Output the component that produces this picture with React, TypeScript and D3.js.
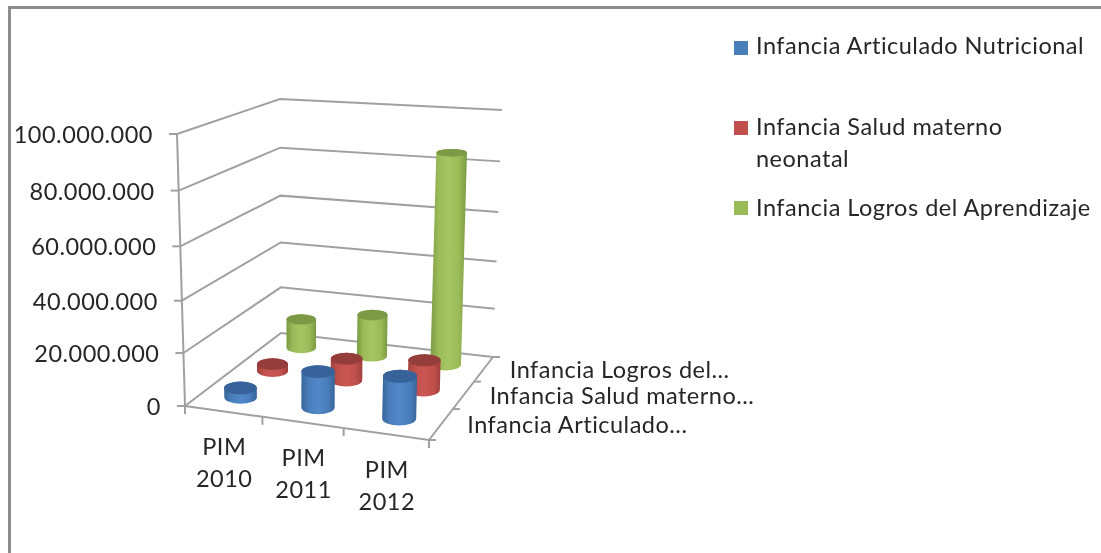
import React from "react";
import * as d3 from "d3";

const years = ["PIM 2010", "PIM 2011", "PIM 2012"];
const seriesNames = [
  "Infancia Articulado Nutricional",
  "Infancia Salud materno neonatal",
  "Infancia Logros del Aprendizaje",
];
const depthLabels = ["Infancia Articulado...", "Infancia Salud materno...", "Infancia Logros del..."];
const legendLines = [["Infancia Articulado Nutricional"], ["Infancia Salud materno", "neonatal"], ["Infancia Logros del Aprendizaje"]];
const articulado = [3500000, 13500000, 15500000];
const salud = [2800000, 8500000, 11500000];
const logros = [12000000, 17000000, 85000000];
const yTicks = [0, 20000000, 40000000, 60000000, 80000000, 100000000];

const W = 1101;
const H = 553;
const FONT = "Lato, sans-serif";

const colors = [
  { side: "#4a7ebb", edge: "#38659b", mid: "#5188c9", top: "#38649a" },
  { side: "#c0504d", edge: "#a03f3d", mid: "#ca5653", top: "#943c3a" },
  { side: "#9bbb59", edge: "#7a9a42", mid: "#a4c660", top: "#7c9a45" },
];

type Pt = [number, number];

// unit square -> quad: (0,0) front-left, (0,1) back-left, (1,1) back-right, (1,0) front-right
function quad(p0: Pt, p1: Pt, p2: Pt, p3: Pt) {
  const dx1 = p3[0] - p2[0], dx2 = p1[0] - p2[0], sx = p0[0] - p3[0] + p2[0] - p1[0];
  const dy1 = p3[1] - p2[1], dy2 = p1[1] - p2[1], sy = p0[1] - p3[1] + p2[1] - p1[1];
  const den = dx1 * dy2 - dx2 * dy1;
  const g = (sx * dy2 - dx2 * sy) / den;
  const h = (dx1 * sy - sx * dy1) / den;
  const a = p3[0] - p0[0] + g * p3[0], b = p1[0] - p0[0] + h * p1[0];
  const d = p3[1] - p0[1] + g * p3[1], e = p1[1] - p0[1] + h * p1[1];
  return (u: number, v: number): Pt => {
    const w = g * u + h * v + 1;
    return [(a * u + b * v + p0[0]) / w, (d * u + e * v + p0[1]) / w];
  };
}

const floor = quad([185, 406], [281, 333], [493, 357], [429, 440]);
const roof = quad([177, 134], [280, 99], [502, 110], [437, 150]);

const xScale = d3.scaleBand<string>().domain(years).range([0, 1]);
const zScale = d3.scaleBand<string>().domain(seriesNames).range([0, 1]);
// the gridlines in the picture are not quite evenly spaced
const yScale = d3.scaleLinear().domain(yTicks).range([0, 0.195, 0.387, 0.587, 0.792, 1]);
const fmt = (v: number) => d3.format(",")(v).replace(/,/g, ".");

function project(u: number, v: number, value: number): Pt {
  const t = yScale(value);
  const a = floor(u, v);
  const b = roof(u, v);
  return [a[0] + (b[0] - a[0]) * t, a[1] + (b[1] - a[1]) * t];
}

const flat = d3.scaleLinear().domain([150, 377]).range([0.25, 0.39]);

function cylinder(u: number, v: number, value: number) {
  const base = floor(u, v);
  const rTop = project(u, v, value);
  const span = Math.hypot(roof(u, v)[0] - base[0], roof(u, v)[1] - base[1]);
  const rx = span * 0.061;
  const ryBase = rx * flat(base[1]);
  const ryTop = rx * flat(rTop[1]);
  const side =
    `M${rTop[0] - rx},${rTop[1]}L${base[0] - rx},${base[1]}` +
    `A${rx},${ryBase} 0 0 0 ${base[0] + rx},${base[1]}` +
    `L${rTop[0] + rx},${rTop[1]}A${rx},${ryTop} 0 0 0 ${rTop[0] - rx},${rTop[1]}Z`;
  return { side, top: rTop, rx, ryTop };
}

const line = d3.line<Pt>();

export default function App() {
  const data = [articulado, salud, logros];
  const axisColor = "#a0a0a0";
  const bars = seriesNames
    .map((name, s) => ({ name, s }))
    .reverse()
    .flatMap(({ name, s }) =>
      years.map((year, i) => ({
        key: name + year,
        s,
        ...cylinder(xScale(year)! + xScale.bandwidth() / 2, zScale(name)! + zScale.bandwidth() / 2, data[s][i]),
      }))
    );

  return (
    <svg width={W} height={H} style={{ position: "fixed", left: 0, top: 0, background: "#fff" }} fontFamily={FONT}>
      <defs>
        {colors.map((c, i) => (
          <linearGradient key={i} id={`cyl${i}`} x1="0" x2="1" y1="0" y2="0">
            <stop offset="0" stopColor={c.edge} />
            <stop offset="0.22" stopColor={c.side} />
            <stop offset="0.5" stopColor={c.mid} />
            <stop offset="0.78" stopColor={c.side} />
            <stop offset="1" stopColor={c.edge} />
          </linearGradient>
        ))}
        <filter id="soft" x="-2%" y="-2%" width="104%" height="104%">
          <feGaussianBlur stdDeviation="0.5" />
        </filter>
      </defs>
      <g filter="url(#soft)">
        <path d={`M9.5,${H}V7.5H${W}`} fill="none" stroke="#8c8c8c" strokeWidth={3} />

        {/* walls */}
        <g fill="none" stroke={axisColor} strokeWidth={2}>
          {yTicks.map((t) => (
            <path
              key={t}
              d={line([project(0, 0, t), project(0, 1, t), project(1, 1, t)])!}
            />
          ))}
          <path d={line([project(0, 0, 0), project(0, 0, 100000000)])!} />
          <path d={line([floor(0, 0), floor(1, 0), floor(1, 1)])!} />
          {yTicks.map((t) => {
            const p = project(0, 0, t);
            return <path key={t} d={line([p, [p[0] - 8, p[1]]])!} />;
          })}
          {d3.range(0, 4).map((i) => {
            const p = floor(i / 3, 0);
            return <path key={i} d={line([p, [p[0], p[1] + 8]])!} />;
          })}
          {d3.range(0, 4).map((i) => {
            const p = floor(1, i / 3);
            return <path key={i} d={line([p, [p[0] + 7, p[1]]])!} />;
          })}
        </g>

        {/* bars, back row first */}
        {bars.map((b) => (
          <g key={b.key}>
            <path d={b.side} fill={`url(#cyl${b.s})`} />
            <ellipse cx={b.top[0]} cy={b.top[1]} rx={b.rx} ry={b.ryTop} fill={colors[b.s].top} />
          </g>
        ))}

        {/* labels */}
        <g fontSize={23.5} letterSpacing={0.5} fill="#262626">
          {yTicks.map((t) => {
            const p = project(0, 0, t);
            return (
              <text key={t} x={p[0] - 24} y={p[1] + 9} textAnchor="end">
                {fmt(t)}
              </text>
            );
          })}
          {years.map((year) => {
            const p = floor(xScale(year)! + xScale.bandwidth() / 2, 0);
            return (
              <text key={year} textAnchor="middle">
                {year.split(" ").map((part, i) => (
                  <tspan key={part} x={p[0] + 1} y={p[1] + 44 + i * 32}>
                    {part}
                  </tspan>
                ))}
              </text>
            );
          })}
          {depthLabels.map((label, i) => {
            const p = floor(1, (i + 0.5) / 3);
            return (
              <text key={label} x={p[0] + 26} y={p[1] + 9}>
                {label}
              </text>
            );
          })}
          {legendLines.map((lines, i) => (
            <g key={i}>
              <rect x={734} y={41 + i * 80} width={14} height={14} fill={colors[i].side} />
              {lines.map((l, j) => (
                <text key={l} x={756} y={54 + i * 81 + j * 32}>
                  {l}
                </text>
              ))}
            </g>
          ))}
        </g>
      </g>
    </svg>
  );
}
